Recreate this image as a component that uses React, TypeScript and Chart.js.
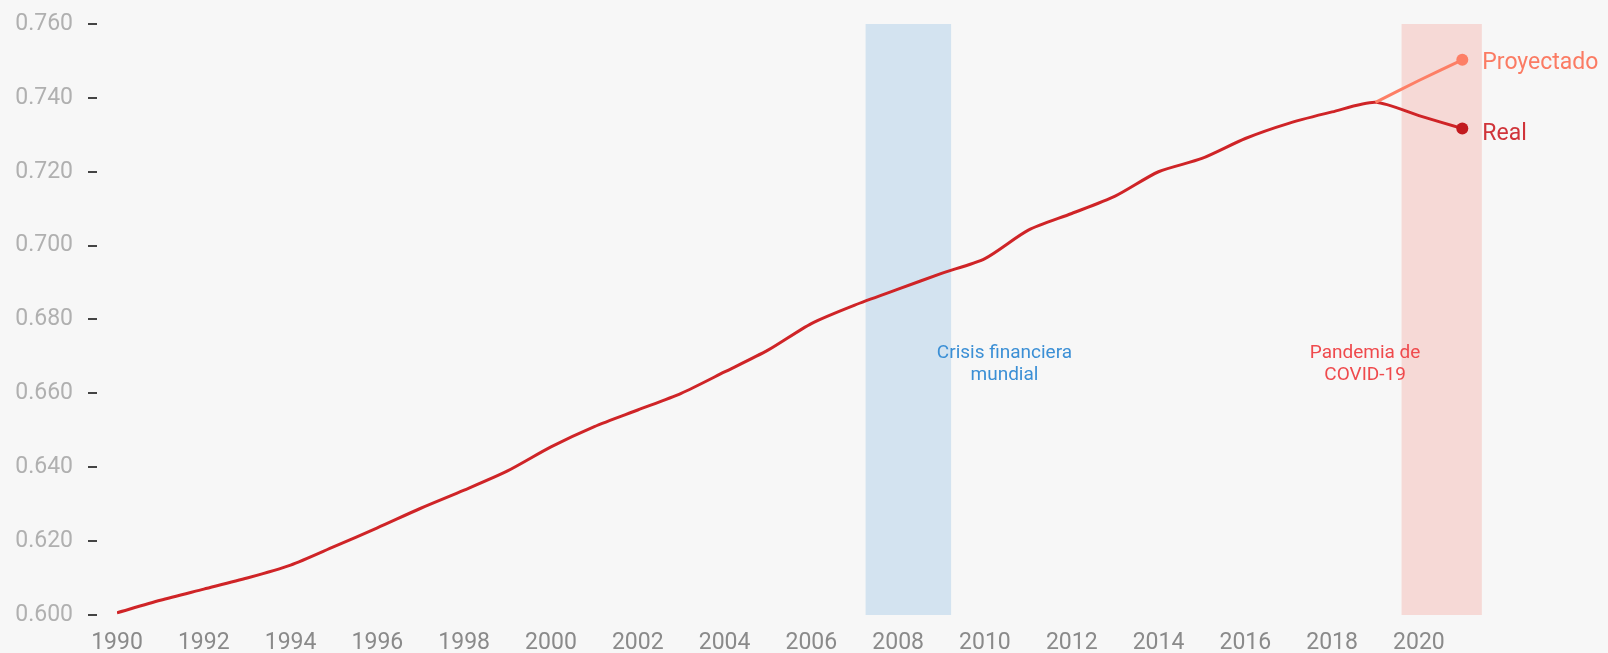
import React, { useEffect, useRef } from "react";
import { Chart, registerables } from "chart.js";

Chart.register(...registerables);

const years = [
  1990, 1991, 1992, 1993, 1994, 1995, 1996, 1997, 1998, 1999, 2000, 2001, 2002, 2003, 2004, 2005,
  2006, 2007, 2008, 2009, 2010, 2011, 2012, 2013, 2014, 2015, 2016, 2017, 2018, 2019, 2020, 2021,
];
const realValues = [
  0.6006, 0.604, 0.607, 0.61, 0.6135, 0.6185, 0.6236, 0.6289, 0.6338, 0.639, 0.6455, 0.651, 0.6555,
  0.66, 0.6658, 0.6717, 0.6789, 0.6839, 0.6882, 0.6925, 0.6965, 0.7042, 0.7087, 0.7134, 0.72, 0.7236,
  0.729, 0.7331, 0.7362, 0.7388, 0.7352, 0.7317,
];
const projectedYears = [2019, 2020, 2021];
const projectedValues = [0.7388, 0.7447, 0.7503];

const xTickYears = [1990, 1992, 1994, 1996, 1998, 2000, 2002, 2004, 2006, 2008, 2010, 2012, 2014, 2016, 2018, 2020];
const yTickValues = [0.6, 0.62, 0.64, 0.66, 0.68, 0.7, 0.72, 0.74, 0.76];

const crisisBand = [2007.25, 2009.22];
const covidBand = [2019.6, 2021.45];
const crisisLabel = ["Crisis financiera", "mundial"];
const covidLabel = ["Pandemia de", "COVID-19"];
const seriesLabels = ["Real", "Proyectado"];

const FONT = "Roboto, 'Noto Sans', sans-serif";

const overlayPlugin = {
  id: "overlay",
  beforeDatasetsDraw(chart: any) {
    const { ctx, chartArea, scales } = chart;
    const x = scales.x;
    const y = scales.y;
    ctx.save();
    const drawBand = (band: number[], color: string) => {
      const x0 = x.getPixelForValue(band[0]);
      const x1 = x.getPixelForValue(band[1]);
      ctx.fillStyle = color;
      ctx.fillRect(x0, chartArea.top, x1 - x0, chartArea.bottom - chartArea.top);
    };
    drawBand(crisisBand, "#d3e3f0");
    drawBand(covidBand, "#f6d9d6");

    ctx.font = `19px ${FONT}`;
    ctx.textAlign = "center";
    ctx.textBaseline = "middle";
    const drawLabel = (lines: string[], xv: number, yv: number, color: string) => {
      const px = x.getPixelForValue(xv);
      const py = y.getPixelForValue(yv);
      ctx.fillStyle = color;
      ctx.fillText(lines[0], px, py - 11);
      ctx.fillText(lines[1], px, py + 11);
    };
    drawLabel(crisisLabel, 2010.45, 0.668, "#3b8fd5");
    drawLabel(covidLabel, 2018.76, 0.668, "#ef4a4d");

    ctx.strokeStyle = "#444";
    ctx.lineWidth = 2;
    y.ticks.forEach((t: any) => {
      const py = Math.round(y.getPixelForValue(t.value));
      ctx.beginPath();
      ctx.moveTo(chartArea.left - 29, py);
      ctx.lineTo(chartArea.left - 20, py);
      ctx.stroke();
    });
    ctx.restore();
  },
  afterDatasetsDraw(chart: any) {
    const { ctx, scales } = chart;
    const x = scales.x;
    const y = scales.y;
    ctx.save();
    ctx.font = `23px ${FONT}`;
    ctx.textAlign = "left";
    ctx.textBaseline = "middle";
    const lastReal = realValues[realValues.length - 1];
    const lastYear = years[years.length - 1];
    ctx.fillStyle = "#d0343a";
    ctx.fillText(seriesLabels[0], x.getPixelForValue(lastYear) + 20, y.getPixelForValue(lastReal) + 6);
    const lastProj = projectedValues[projectedValues.length - 1];
    const lastProjYear = projectedYears[projectedYears.length - 1];
    ctx.fillStyle = "#fb7b63";
    ctx.fillText(seriesLabels[1], x.getPixelForValue(lastProjYear) + 20, y.getPixelForValue(lastProj) + 3);
    ctx.restore();
  },
};

export default function App() {
  const canvasRef = useRef<HTMLCanvasElement>(null);

  useEffect(() => {
    document.body.style.margin = "0";
    document.body.style.background = "#f7f7f7";
    const canvas = canvasRef.current;
    if (!canvas) return;
    const lastIdx = realValues.length - 1;
    const chart = new Chart(canvas, {
      type: "line",
      data: {
        datasets: [
          {
            label: seriesLabels[1],
            data: projectedYears.map((yr, i) => ({ x: yr, y: projectedValues[i] })),
            borderColor: "#fd7f66",
            backgroundColor: "#fd7f66",
            borderWidth: 3,
            pointRadius: projectedYears.map((_, i) => (i === projectedYears.length - 1 ? 6 : 0)),
            pointBorderWidth: 0,
            tension: 0.25,
            fill: false,
          },
          {
            label: seriesLabels[0],
            data: years.map((yr, i) => ({ x: yr, y: realValues[i] })),
            borderColor: "#cf2427",
            backgroundColor: "#c21a1f",
            borderWidth: 3,
            pointRadius: years.map((_, i) => (i === lastIdx ? 6 : 0)),
            pointBorderWidth: 0,
            tension: 0.25,
            fill: false,
          },
        ],
      },
      options: {
        responsive: false,
        animation: false,
        layout: { padding: { top: 24, right: 124, left: 0, bottom: 0 } },
        plugins: {
          legend: { display: false },
          tooltip: { enabled: false },
        },
        scales: {
          x: {
            type: "linear",
            min: 1990,
            max: 2021.5,
            grid: { display: false, drawTicks: false },
            border: { display: false },
            afterBuildTicks: (scale: any) => {
              scale.ticks = xTickYears.map((v) => ({ value: v }));
            },
            afterFit: (scale: any) => {
              scale.height = 38;
            },
            ticks: {
              autoSkip: false,
              maxRotation: 0,
              padding: 14,
              color: "#8a8a8a",
              font: { family: FONT, size: 23 },
              callback: (v: any) => String(v),
            },
          },
          y: {
            min: 0.6,
            max: 0.76,
            grid: { display: false, drawTicks: true, tickLength: 44 },
            border: { display: false },
            afterBuildTicks: (scale: any) => {
              scale.ticks = yTickValues.map((v) => ({ value: v }));
            },
            afterFit: (scale: any) => {
              scale.width = 117;
            },
            ticks: {
              padding: 0,
              color: "#b0b0b0",
              font: { family: FONT, size: 23 },
              callback: (v: any) => Number(v).toFixed(3),
            },
          },
        },
      },
      plugins: [overlayPlugin],
    });
    return () => chart.destroy();
  }, []);

  return (
    <div style={{ width: 1608, height: 653, background: "#f7f7f7" }}>
      <canvas ref={canvasRef} width={1608} height={653} style={{ display: "block" }} />
    </div>
  );
}
